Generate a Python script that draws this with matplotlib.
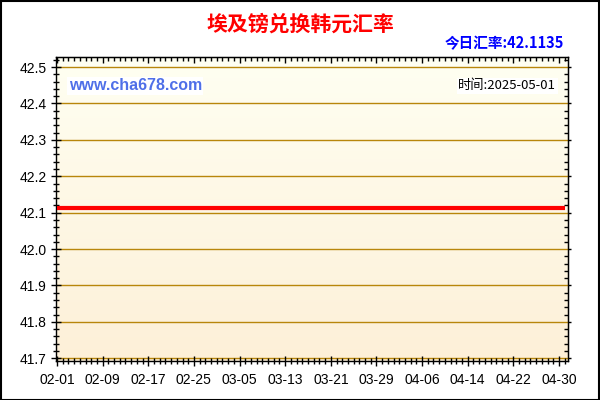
import numpy as np
import pandas as pd
import matplotlib
matplotlib.use("Agg")
import matplotlib.pyplot as plt
from matplotlib.ticker import MultipleLocator, FixedLocator, NullFormatter
from matplotlib.colors import LinearSegmentedColormap

plt.rcParams['font.family'] = ['Liberation Sans', 'Noto Sans CJK SC', 'DejaVu Sans']

# données
dates = pd.date_range("2025-02-01", "2025-05-01", freq="D")
rate = 42.1135
values = [rate] * len(dates)
tick_labels = ["02-01", "02-09", "02-17", "02-25", "03-05", "03-13",
               "03-21", "03-29", "04-06", "04-14", "04-22", "04-30"]
title = "埃及镑兑换韩元汇率"
today_text = "今日汇率:42.1135"
time_text = "时间:2025-05-01"

days = np.arange(len(dates))
major_days = days[::8][:len(tick_labels)]

fig = plt.figure(figsize=(6, 4), dpi=100)
fig.patch.set_facecolor("white")
ax = fig.add_axes([56/600, 39/400, 512/600, 304/400])

ymin, ymax = 41.6926, 42.5275
xmin, xmax = -0.18, 89.58

# fond dégradé (clair en haut, crème en bas)
cmap = LinearSegmentedColormap.from_list("bg", ["#fffff2", "#fdf0d8"])
grad = np.linspace(0, 1, 256).reshape(-1, 1)
ax.imshow(grad, cmap=cmap, aspect="auto", extent=[xmin, xmax, ymin, ymax],
          origin="upper", zorder=0, interpolation="bilinear")

ax.set_xlim(xmin, xmax)
ax.set_ylim(ymin, ymax)

# grille
for y in np.arange(41.7, 42.51, 0.1):
    ax.axhline(y, color="#b8860b", lw=1, zorder=1)

ax.plot(days, values, color="#ff0000", lw=3, zorder=3, solid_capstyle="butt")

# ticks gauche / bas
ax.yaxis.set_major_locator(MultipleLocator(0.1))
ax.yaxis.set_minor_locator(MultipleLocator(0.02))
ax.yaxis.set_major_formatter(plt.FuncFormatter(lambda v, p: f"{v:.1f}"))
ax.xaxis.set_major_locator(FixedLocator(major_days))
ax.set_xticklabels(tick_labels)
ax.xaxis.set_minor_locator(MultipleLocator(1))
ax.tick_params(axis="both", which="major", direction="inout", length=7.5, width=1,
               labelsize=10, colors="black", pad=3)
ax.tick_params(axis="x", which="major", pad=5)
ax.tick_params(axis="both", which="minor", direction="inout", length=5, width=1)

# ticks haut / droite
top = ax.secondary_xaxis("top")
top.xaxis.set_major_locator(FixedLocator(major_days))
top.xaxis.set_minor_locator(MultipleLocator(1))
top.xaxis.set_major_formatter(NullFormatter())
top.tick_params(which="major", direction="in", length=4, width=1)
top.tick_params(which="minor", direction="in", length=3, width=1)
right = ax.secondary_yaxis("right")
right.yaxis.set_major_locator(MultipleLocator(0.1))
right.yaxis.set_minor_locator(MultipleLocator(0.02))
right.yaxis.set_major_formatter(NullFormatter())
right.tick_params(which="major", direction="out", length=2.5, width=1)
right.tick_params(which="minor", direction="in", length=3, width=1)

for s in ax.spines.values():
    s.set_color("black")
    s.set_linewidth(1)

# textes
fig.text(0.5, 1 - 24/400, title, color="#ff0000", fontsize=15, fontweight="heavy",
         ha="center", va="center", family=['Noto Sans CJK SC', 'DejaVu Sans'])
fig.text(564/600, 1 - 43/400, today_text, color="#0000ff", fontsize=10.5,
         fontweight="bold", ha="right", va="center",
         family=['Noto Sans CJK SC', 'DejaVu Sans'])
ax.text(0.025, 0.905, "www.cha678.com", transform=ax.transAxes, color="#4f6fe8",
        fontsize=11.5, fontweight="bold", ha="left", va="center",
        bbox=dict(facecolor="white", edgecolor="none", pad=1), zorder=4)
ax.text(0.977, 0.905, time_text, transform=ax.transAxes, color="black",
        fontsize=9.5, ha="right", va="center",
        family=['Noto Sans CJK SC', 'DejaVu Sans'],
        bbox=dict(facecolor="white", edgecolor="none", pad=1), zorder=4)

# cadre
fig.patches.append(plt.Rectangle((0.001, 0.001), 0.997, 0.997, transform=fig.transFigure,
                                 fill=False, edgecolor="black", lw=1.5))

plt.savefig("out.png", dpi=100)
